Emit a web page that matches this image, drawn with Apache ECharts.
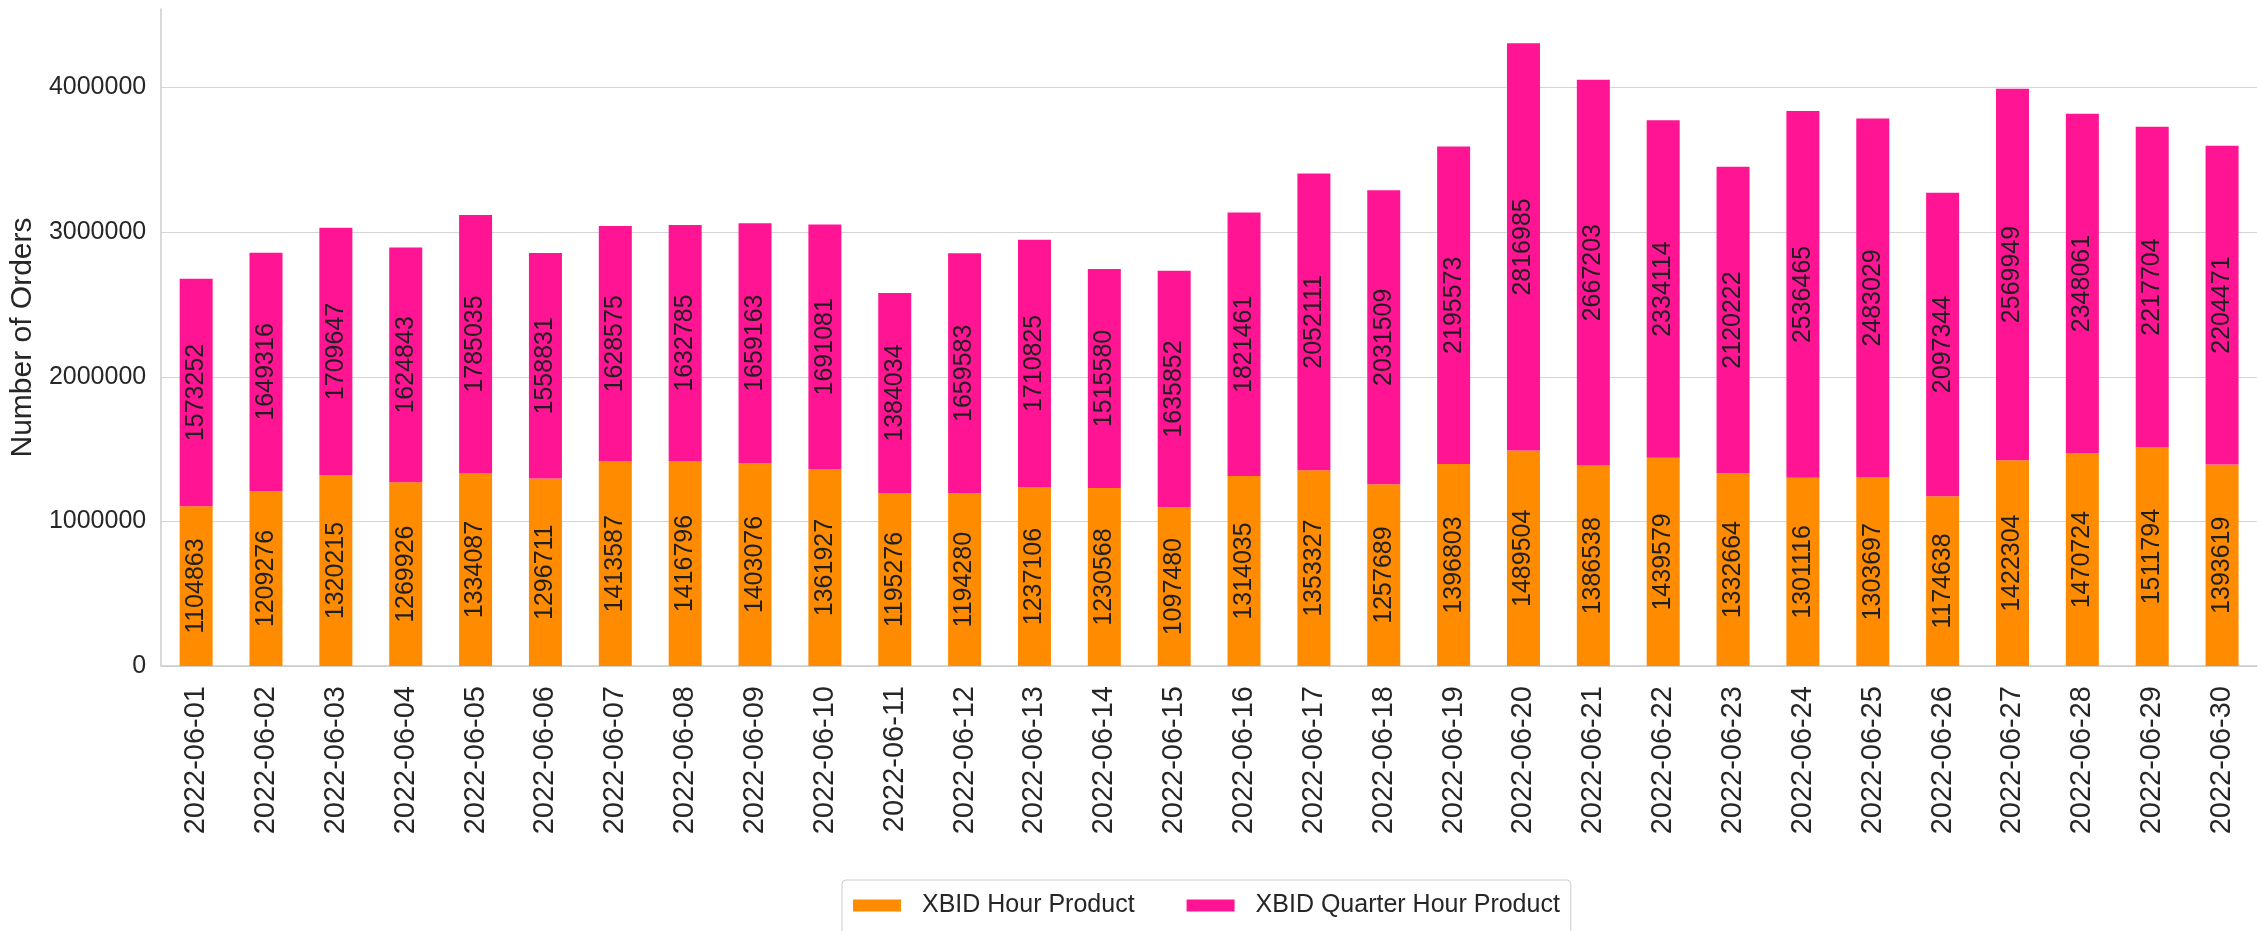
<!DOCTYPE html>
<html>
<head>
<meta charset="utf-8">
<script src="https://cdn.jsdelivr.net/npm/echarts@6/dist/echarts.min.js"></script>
<style>
  html, body { margin: 0; padding: 0; background: #ffffff; }
  #chart { width: 2262px; height: 931px; }
</style>
</head>
<body>
<div id="chart"></div>
<script>
const categories = [
  '2022-06-01','2022-06-02','2022-06-03','2022-06-04','2022-06-05','2022-06-06',
  '2022-06-07','2022-06-08','2022-06-09','2022-06-10','2022-06-11','2022-06-12',
  '2022-06-13','2022-06-14','2022-06-15','2022-06-16','2022-06-17','2022-06-18',
  '2022-06-19','2022-06-20','2022-06-21','2022-06-22','2022-06-23','2022-06-24',
  '2022-06-25','2022-06-26','2022-06-27','2022-06-28','2022-06-29','2022-06-30'
];
const hourProduct = [
  1104863,1209276,1320215,1269926,1334087,1296711,1413587,1416796,1403076,1361927,
  1195276,1194280,1237106,1230568,1097480,1314035,1353327,1257689,1396803,1489504,
  1386538,1439579,1332664,1301116,1303697,1174638,1422304,1470724,1511794,1393619
];
const quarterHourProduct = [
  1573252,1649316,1709647,1624843,1785035,1558831,1628575,1632785,1659163,1691081,
  1384034,1659583,1710825,1515580,1635852,1821461,2052111,2031509,2195573,2816985,
  2667203,2334114,2120222,2536465,2483029,2097344,2569949,2348061,2217704,2204471
];
const seriesNames = ['XBID Hour Product', 'XBID Quarter Hour Product'];
const yTicks = [0, 1000000, 2000000, 3000000, 4000000];

const totals = hourProduct.map((v, i) => v + quarterHourProduct[i]);
const yMax = Math.round(Math.max(...totals) * 1.055);

const regular = "'Liberation Sans', Arial, sans-serif";

const chart = echarts.init(document.getElementById('chart'), null, { renderer: 'canvas' });

const labelStyle = {
  show: true,
  position: 'inside',
  rotate: 90,
  fontFamily: regular,
  fontSize: 25,
  color: '#1f1f1f'
};

chart.setOption({
  backgroundColor: '#ffffff',
  animation: false,
  grid: { left: 157, right: 5, top: 9, bottom: 265 },
  legend: {
    left: 842,
    top: 880,
    padding: [13, 11, 24, 11],
    itemWidth: 48,
    itemHeight: 12,
    itemGap: 52,
    borderColor: '#cccccc',
    borderWidth: 1,
    borderRadius: 4,
    backgroundColor: '#ffffff',
    icon: 'rect',
    textStyle: {
      fontFamily: regular,
      fontSize: 25,
      color: '#262626',
      padding: [0, 0, 0, 16]
    },
    data: seriesNames
  },
  xAxis: {
    type: 'category',
    data: categories,
    boundaryGap: true,
    axisLine: { show: true, lineStyle: { color: '#cccccc', width: 1.5 } },
    axisTick: { show: false },
    splitLine: { show: false },
    axisLabel: {
      interval: 0,
      rotate: 90,
      margin: 20,
      fontFamily: regular,
      fontSize: 29,
      color: '#262626'
    }
  },
  yAxis: {
    type: 'value',
    min: yTicks[0],
    max: yMax,
    interval: yTicks[1] - yTicks[0],
    name: 'Number of Orders',
    nameLocation: 'middle',
    nameGap: 110,
    nameRotate: 90,
    nameTextStyle: { fontFamily: regular, fontSize: 30, color: '#262626' },
    axisLine: { show: true, lineStyle: { color: '#cccccc', width: 1.5 } },
    axisTick: { show: false },
    splitLine: { show: true, showMaxLine: false, lineStyle: { color: '#d5d5d5', width: 1.2 } },
    axisLabel: {
      showMaxLabel: false,
      margin: 15,
      fontFamily: regular,
      fontSize: 25,
      color: '#262626',
      formatter: v => (yTicks.includes(v) ? String(v) : '')
    }
  },
  series: [
    {
      name: seriesNames[0],
      type: 'bar',
      stack: 'total',
      barWidth: 33,
      itemStyle: { color: '#ff8c00' },
      label: labelStyle,
      data: hourProduct
    },
    {
      name: seriesNames[1],
      type: 'bar',
      stack: 'total',
      barWidth: 33,
      itemStyle: { color: '#ff1493' },
      label: labelStyle,
      data: quarterHourProduct
    }
  ]
});
</script>
</body>
</html>
